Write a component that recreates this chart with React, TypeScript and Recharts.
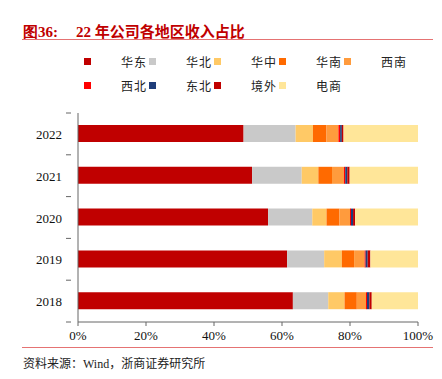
import React from "react";
import { BarChart, Bar, XAxis, YAxis } from "recharts";

// 年份（从上到下）
const years = ["2022", "2021", "2020", "2019", "2018"];

// 各地区名称与颜色
const regions = ["华东", "华北", "华中", "华南", "西南", "西北", "东北", "境外", "电商"];
const COLORS = ["#C00000", "#C9C9C9", "#FFC966", "#FF6A00", "#FF9B3D", "#FF0000", "#1F3D7A", "#C00000", "#FFE699"];

// 各地区收入占比（%），与 years 同序
const huadong = [48.7, 51.2, 55.9, 61.5, 63.2];
const huabei = [15.3, 14.6, 13.0, 10.9, 10.4];
const huazhong = [5.1, 4.9, 4.2, 5.2, 4.8];
const huanan = [4.0, 4.0, 3.8, 3.6, 3.6];
const xinan = [3.5, 3.5, 3.1, 3.1, 2.7];
const xibei = [0.5, 0.4, 0.3, 0.3, 0.3];
const dongbei = [0.5, 0.6, 0.6, 0.6, 0.7];
const jingwai = [0.5, 0.7, 0.6, 0.8, 0.7];
const dianshang = [21.9, 20.1, 18.5, 14.0, 13.6];

const xTicks = [0, 20, 40, 60, 80, 100];

const series = [huadong, huabei, huazhong, huanan, xinan, xibei, dongbei, jingwai, dianshang];

const data = years.map((year, i) => {
  const row: Record<string, string | number> = { year };
  regions.forEach((r, k) => {
    row[r] = series[k][i];
  });
  return row;
});

const SERIF = "'Liberation Serif', 'Times New Roman', serif";
const CJK = "'Noto Sans CJK SC', sans-serif";
const BAND = (322 - 113) / years.length;

// y 轴刻度：标签 + 类别分界处的刻度线
const YTick = (props: any) => {
  const { x, y, payload, index } = props;
  return (
    <g>
      <text x={x - 8} y={y} dy={5} textAnchor="end" fontSize={13} fontFamily={SERIF} fill="#111">
        {payload.value}
      </text>
      <line x1={x - 4} x2={x + 1} y1={y - BAND / 2} y2={y - BAND / 2} stroke="#666" />
      {index === years.length - 1 && (
        <line x1={x - 4} x2={x + 1} y1={y + BAND / 2} y2={y + BAND / 2} stroke="#666" />
      )}
    </g>
  );
};

const App: React.FC = () => {
  return (
    <div style={{ position: "absolute", left: 0, top: 0, width: 442, height: 379, background: "#fff" }}>
      {/* 标题 */}
      <div
        style={{
          position: "absolute",
          left: 23,
          top: 20,
          color: "#C00000",
          fontWeight: "bold",
          fontSize: 15,
          fontFamily: SERIF,
          whiteSpace: "nowrap",
        }}
      >
        <span>图36:</span>
        <span style={{ marginLeft: 18 }}>
          22 <span style={{ fontFamily: CJK }}>年公司各地区收入占比</span>
        </span>
      </div>
      <div style={{ position: "absolute", left: 22, top: 39, width: 411, height: 1, background: "#E57373" }} />

      {/* 图例 */}
      {regions.map((r, k) => {
        const col = k % 5;
        const row = Math.floor(k / 5);
        const top = 58 + row * 24;
        return (
          <React.Fragment key={r}>
            <div
              style={{
                position: "absolute",
                left: 84 + col * 65,
                top,
                width: 7,
                height: 7,
                background: COLORS[k],
              }}
            />
            <div
              style={{
                position: "absolute",
                left: 121 + col * 65,
                top: top - 5,
                fontSize: 12,
                letterSpacing: 1,
                fontFamily: CJK,
                color: "#222",
                whiteSpace: "nowrap",
              }}
            >
              {r}
            </div>
          </React.Fragment>
        );
      })}

      <div style={{ position: "absolute", left: 0, top: 0 }}>
        <BarChart
          width={442}
          height={379}
          data={data}
          layout="vertical"
          margin={{ top: 113, right: 24, bottom: 27, left: 0 }}
        >
          <XAxis
            type="number"
            domain={[0, 100]}
            ticks={xTicks}
            tickFormatter={(v) => `${v}%`}
            height={30}
            tickSize={4}
            tickMargin={5}
            stroke="#666"
            tick={{ fontSize: 13, fontFamily: SERIF, fill: "#111" }}
          />
          <YAxis
            type="category"
            dataKey="year"
            width={78}
            tickLine={false}
            stroke="#666"
            tick={<YTick />}
          />
          {regions.map((r, k) => (
            <Bar
              key={r}
              dataKey={r}
              stackId="a"
              fill={COLORS[k]}
              barSize={17}
              isAnimationActive={false}
            />
          ))}
        </BarChart>
      </div>

      {/* 底部分隔线与资料来源 */}
      <div style={{ position: "absolute", left: 22, top: 347, width: 411, height: 1, background: "#E57373" }} />
      <div
        style={{
          position: "absolute",
          left: 23,
          top: 354,
          fontSize: 12,
          fontFamily: CJK,
          color: "#222",
          whiteSpace: "nowrap",
        }}
      >
        资料来源：<span style={{ fontFamily: SERIF }}>Wind</span>，浙商证券研究所
      </div>
    </div>
  );
};

export default App;
